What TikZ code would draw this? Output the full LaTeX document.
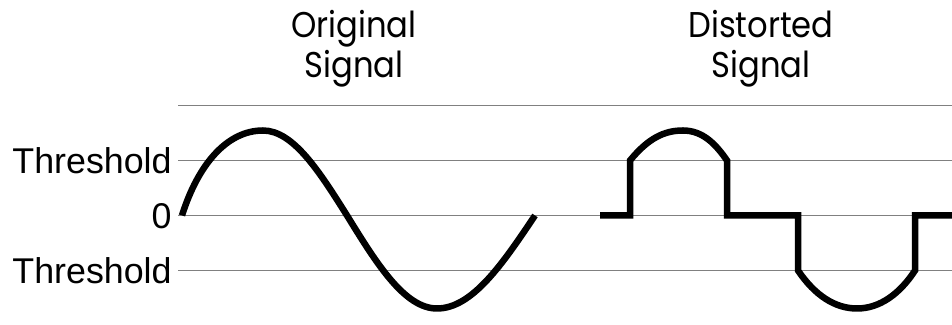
\documentclass[tikz,border=0pt]{standalone}
\usepackage{fontspec}
\setmainfont{Liberation Sans}
\newfontfamily\titlefont{Poppins}[FakeStretch=0.9]
\colorlet{rulegray}{black!50}
\tikzset{
  rule/.style={rulegray, line width=0.75pt},
  signal/.style={line width=3.25pt},
  levellabel/.style={anchor=east, inner xsep=3pt, text height=13pt, text depth=0pt, font=\fontsize{17.9}{20}\selectfont},
  titlelabel/.style={align=center, font=\titlefont\fontsize{17.9}{20}\selectfont}
}

\begin{document}
\begin{tikzpicture}[x=0.5pt, y=0.5pt]
\useasboundingbox (0,-109.5) rectangle (952,215.5);
\coordinate (edge) at (952,0);
\coordinate (rulestart) at (178,110);
\node[levellabel] (thrhi) at (178,55) {Threshold};
\node[levellabel] (zero) at (178,0) {0};
\node[levellabel] (thrlo) at (178,-55) {Threshold};
\draw[rule] (rulestart) -- (rulestart -| edge);
\foreach \lvl in {thrhi, zero, thrlo} \draw[rule] (\lvl.east) -- (\lvl.east -| edge);
\node[titlelabel] (origtitle) at (354,167) {Original\\Signal};
\node[titlelabel] (disttitle) at (761,167) {Distorted\\Signal};
\draw[signal] (182,0) .. controls (198,51) and (227,85) .. (263,85) cos (347,0) sin (437,-93) cos (535,0);
\draw[signal] (600,0) -- (630,0) -- (630,55) .. controls (648,77) and (664,85) .. (683,85) .. controls (703,85) and (716,71) .. (727,55) -- (727,0) -- (798,0) -- (798,-55) .. controls (815,-80) and (835,-93) .. (857,-93) .. controls (880,-93) and (900,-78) .. (915,-55) -- (915,0) -- (edge);
\end{tikzpicture}
\end{document}
